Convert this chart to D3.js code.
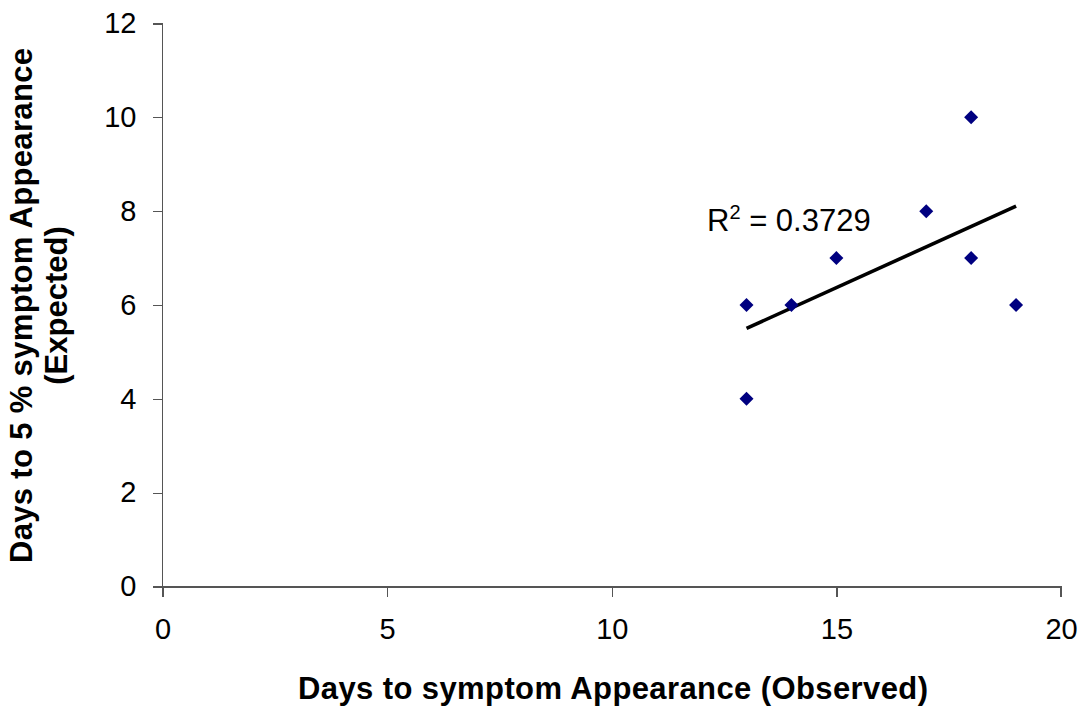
<!DOCTYPE html>
<html><head><meta charset="utf-8">
<script src="https://cdn.jsdelivr.net/npm/d3@7"></script>
<style>body{margin:0;background:#fff}svg{display:block}text{font-family:"Liberation Sans",Arial,sans-serif}</style>
</head><body>
<svg id="c" width="1088" height="709"></svg>
<script>
const observed = [13, 13, 14, 15, 17, 18, 18, 19];
const expected = [6, 4, 6, 7, 8, 10, 7, 6];
const xTicks = [0, 5, 10, 15, 20];
const yTicks = [0, 2, 4, 6, 8, 10, 12];
const r2Label = "0.3729";

const svg = d3.select("#c");
const x = d3.scaleLinear().domain([0, 20]).range([162.5, 1061]);
const y = d3.scaleLinear().domain([0, 12]).range([586.5, 23.5]);

const ax = svg.append("g").attr("transform", `translate(0,${y(0)})`)
  .call(d3.axisBottom(x).tickValues(xTicks).tickSize(10).tickPadding(22).tickFormat(d3.format("d")));
const ay = svg.append("g").attr("transform", `translate(${x(0)},0)`)
  .call(d3.axisLeft(y).tickValues(yTicks).tickSize(10).tickPadding(16).tickFormat(d3.format("d")));
[ax, ay].forEach(g => {
  g.selectAll("path,line").attr("stroke", "#555").attr("stroke-width", 1.3).attr("shape-rendering","crispEdges");
  g.selectAll("text").attr("font-size", 29).attr("fill", "#000").style("font-family", '"Liberation Sans",Arial,sans-serif');
});
ax.select(".domain").attr("d", `M${x(0)-10},0.5H${x(20)}V10`);
ay.select(".domain").attr("d", `M-10,${y(12)}H0V${y(0)+10}`);

// trendline from least squares
const n = observed.length;
const mx = d3.mean(observed), my = d3.mean(expected);
let sxy = 0, sxx = 0;
for (let i = 0; i < n; i++) { sxy += (observed[i]-mx)*(expected[i]-my); sxx += (observed[i]-mx)**2; }
const slope = sxy / sxx, icpt = my - slope * mx;
const [x0, x1] = d3.extent(observed);
svg.append("line")
  .attr("x1", x(x0)).attr("y1", y(icpt + slope*x0))
  .attr("x2", x(x1)).attr("y2", y(icpt + slope*x1))
  .attr("stroke", "#000").attr("stroke-width", 3.6);

svg.append("g").selectAll("path").data(observed.map((o,i)=>[o, expected[i]])).join("path")
  .attr("transform", d => `translate(${x(d[0])},${y(d[1])})`)
  .attr("d", "M0,-7L7,0L0,7L-7,0Z")
  .attr("fill", "#000080");

const t = svg.append("text").attr("x", 707).attr("y", 231).attr("font-size", 31).attr("fill", "#000");
t.append("tspan").text("R");
t.append("tspan").attr("font-size", 20).attr("dy", -12).text("2");
t.append("tspan").attr("dy", 12).text(" = " + r2Label);

svg.append("text").attr("x", 298).attr("y", 699)
  .attr("font-size", 31).attr("font-weight", "bold").attr("textLength", 630).attr("lengthAdjust", "spacing")
  .text("Days to symptom Appearance (Observed)");
const yl = svg.append("text").attr("transform", "translate(0,563) rotate(-90)")
  .attr("font-size", 31).attr("font-weight", "bold");
yl.append("tspan").attr("x", 0).attr("y", 32).attr("textLength", 515).attr("lengthAdjust", "spacing").text("Days to 5 % symptom Appearance");
yl.append("tspan").attr("x", 257.5).attr("y", 67).attr("text-anchor", "middle").text("(Expected)");
</script>
</body></html>
